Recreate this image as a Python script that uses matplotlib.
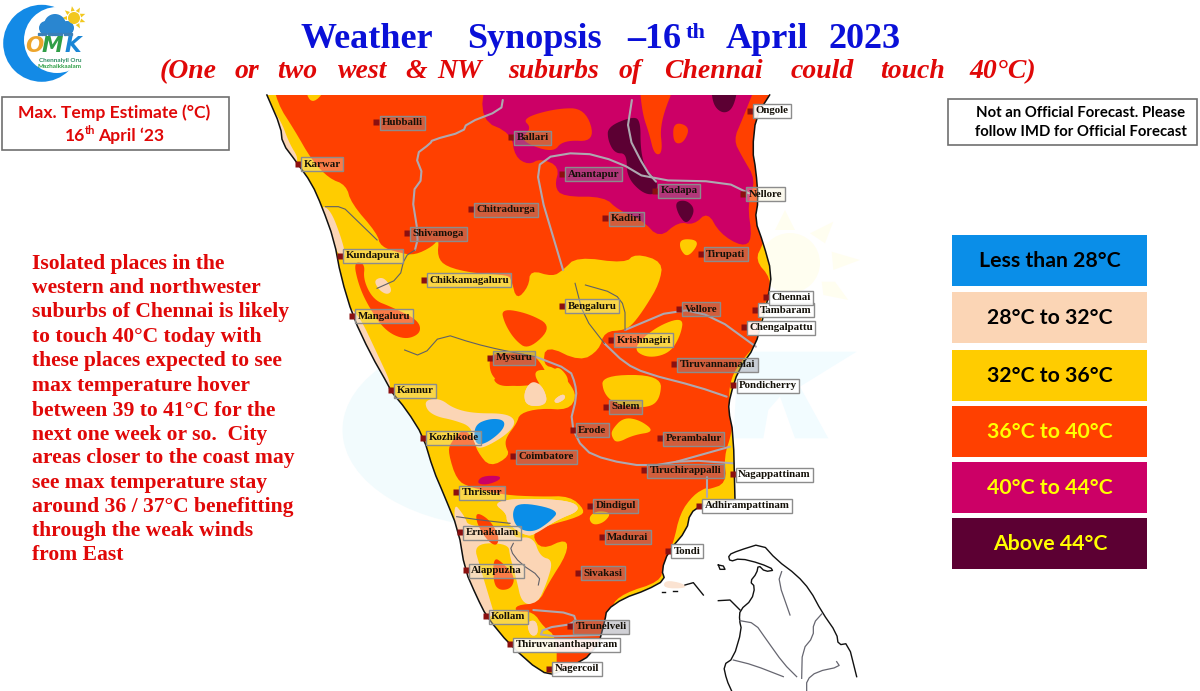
import matplotlib
matplotlib.use("Agg")
import matplotlib.pyplot as plt
from matplotlib.patches import Polygon, Rectangle, Circle, Ellipse
import numpy as np

def z1(p): return [(260 + x / 2.904, 90 + y / 3) for x, y in p]
def z2(p): return [(340 + x / 3, 380 + y / 3) for x, y in p]
def z6(p): return [(700 + x / 3, 200 + y / 3) for x, y in p]
def z7(p): return [(640 + x / 3, 530 + y / 3) for x, y in p]

def chaikin(p, n=3, closed=True):
    a = np.array(p, float)
    for _ in range(n):
        if closed:
            b = np.roll(a, -1, axis=0)
            a = np.column_stack([0.75 * a + 0.25 * b, 0.25 * a + 0.75 * b]).reshape(-1, 2)
        else:
            q = 0.75 * a[:-1] + 0.25 * a[1:]
            r = 0.25 * a[:-1] + 0.75 * a[1:]
            m = np.column_stack([q, r]).reshape(-1, 2)
            a = np.vstack([a[0], m, a[-1]])
    return a

# ---- legend
LEGEND_LABELS = ["Less than 28°C", "28°C to 32°C", "32°C to 36°C",
                 "36°C to 40°C", "40°C to 44°C", "Above 44°C"]
LEGEND_COLORS = ["#0a8ee8", "#fbd5b5", "#ffcc00", "#ff4000", "#cc0066", "#5c0033"]
LEGEND_TEXT = ["black", "black", "black", "#ffff00", "#ffff00", "#ffff00"]
LEGEND_TOP = [235, 292, 350, 406, 462, 518]

BODY_LINES = ["Isolated places in the", "western and northwester",
              "suburbs of Chennai is likely", "to touch 40°C today with",
              "these places expected to see", "max temperature hover",
              "between 39 to 41°C for the", "next one week or so.  City",
              "areas closer to the coast may", "see max temperature stay",
              "around 36 / 37°C benefitting", "through the weak winds", "from East"]
BODY_Y = [264, 288, 312, 337, 361, 386, 411, 435, 458, 483, 507, 531, 555]

TITLE_WORDS = [("Weather", 294, 440), ("Synopsis", 457, 612), ("–16", 627, 682),
               ("April", 722, 812), ("2023", 828, 902)]
SUB_WORDS = [("(One", 157, 220), ("or", 233, 260), ("two", 274, 320), ("west", 334, 392),
             ("&", 407, 425), ("NW", 438, 482), ("suburbs", 495, 613), ("of", 618, 643),
             ("Chennai", 656, 770), ("could", 785, 860), ("touch", 875, 950), ("40°C)", 965, 1040)]

# ---- city labels
CITIES_NORTH = [("Hubballi", 338, 97), ("Karwar", 110, 222), ("Ballari", 730, 142),
                ("Anantapur", 878, 252), ("Kadapa", 1147, 302), ("Ongole", 1422, 62),
                ("Nellore", 1403, 312), ("Chitradurga", 612, 358), ("Kadiri", 1003, 385),
                ("Shivamoga", 428, 430), ("Kundapura", 233, 497), ("Tirupati", 1280, 492),
                ("Chikkamagaluru", 475, 570), ("Bengaluru", 878, 648), ("Vellore", 1217, 657),
                ("Mangaluru", 268, 678), ("Krishnagiri", 1020, 750), ("Chengalpattu", 1405, 712),
                ("Tambaram", 1437, 660), ("Chennai", 1470, 622), ("Mysuru", 668, 803),
                ("Tiruvannamalai", 1203, 823), ("Pondicherry", 1375, 886)]
CITIES_SOUTH = [("Kannur", 153, 31), ("Salem", 797, 80), ("Erode", 698, 150),
                ("Kozhikode", 250, 173), ("Perambalur", 960, 175), ("Coimbatore", 520, 229),
                ("Tiruchirappalli", 913, 271), ("Nagappattinam", 1178, 283), ("Thrissur", 349, 337),
                ("Dindigul", 750, 377), ("Adhirampattinam", 1078, 377), ("Ernakulam", 360, 457),
                ("Madurai", 785, 471), ("Tondi", 985, 513), ("Alappuzha", 377, 571),
                ("Sivakasi", 715, 579), ("Kollam", 437, 709), ("Tirunelveli", 690, 739),
                ("Thiruvananthapuram", 510, 793), ("Nagercoil", 628, 866)]
WHITE_LABELS = {"Pondicherry", "Chennai", "Tambaram", "Chengalpattu", "Nagappattinam",
                "Adhirampattinam", "Tondi", "Ongole", "Nagercoil", "Thiruvananthapuram"}
PALE_LABELS = {"Karwar", "Kundapura", "Mangaluru", "Kannur", "Kozhikode", "Thrissur", "Ernakulam",
               "Alappuzha", "Kollam", "Bengaluru", "Chikkamagaluru", "Krishnagiri", "Nellore"}

# ---- map outlines
COAST = (z1([(20, 15), (60, 110), (65, 160), (105, 215), (150, 280), (180, 350), (215, 450),
             (235, 560), (270, 680), (320, 790), (375, 890)])
         + z2([(150, 30), (200, 90), (250, 170), (280, 270), (310, 340), (355, 450), (375, 570),
               (410, 650), (440, 710), (510, 795), (600, 875), (650, 885), (770, 815), (795, 720),
               (800, 690), (850, 655), (920, 630), (975, 600), (965, 570), (985, 515), (1040, 450),
               (1050, 400), (1085, 375), (1185, 360)])
         + z6([(105, 900), (100, 700), (85, 630), (90, 590), (115, 510), (165, 440), (190, 350),
               (205, 290), (215, 220), (190, 130), (165, 60), (175, 0)])
         + z1([(1440, 240), (1430, 180), (1440, 80), (1480, 15)]))

RED_MAIN = (z1([(30, -60), (50, 40), (100, 120), (150, 210), (200, 265), (250, 285), (265, 340), (340, 430),
                (350, 470), (410, 490), (450, 495), (500, 470), (520, 445), (515, 500), (540, 530),
                (620, 550), (720, 555), (730, 570), (745, 630), (780, 590), (785, 540), (850, 560),
                (880, 540), (920, 500), (1060, 520), (1090, 490), (1170, 515), (1160, 580),
                (1120, 650), (1085, 700), (1060, 720), (1000, 725), (985, 780), (930, 815),
                (830, 765), (822, 825), (860, 835), (900, 880)])
            + z2([(710, 50), (685, 90), (600, 85), (540, 100), (530, 130), (500, 170), (495, 195),
                  (510, 228), (450, 262), (412, 215), (400, 175), (370, 145), (330, 190), (325, 220),
                  (350, 300), (390, 322), (490, 345), (600, 350), (690, 348), (735, 390), (720, 410),
                  (610, 440), (575, 465), (605, 510), (680, 475), (682, 520), (625, 610), (595, 670),
                  (530, 675), (525, 695), (580, 695), (610, 740), (650, 770), (650, 900), (780, 830),
                  (810, 680), (850, 640), (960, 605), (970, 560), (1000, 490), (1020, 400),
                  (1060, 345), (1100, 322)])
            + z6([(20, 870), (80, 850), (72, 770), (95, 700), (100, 640), (85, 590), (95, 530), (120, 490),
                  (165, 435), (180, 400), (185, 330), (205, 290), (213, 235), (165, 180), (190, 130),
                  (210, 60), (210, 0)])
            + z1([(1500, 240), (1500, 80), (1520, -60)]))
RED_PATCHES = [
    z1([(665, 800), (690, 790), (790, 790), (820, 825), (840, 870), (800, 885), (720, 890), (670, 860)]),
    z1([(700, 655), (780, 670), (850, 710), (780, 780), (740, 750), (710, 700)]),
    z1([(272, 515), (305, 520), (300, 570), (330, 630), (380, 650), (460, 690), (468, 730),
        (420, 750), (360, 720), (310, 640), (285, 580)]),
    z2([(455, -10), (545, -10), (530, 18), (475, 18)]),
    z2([(408, 395), (450, 420), (478, 470), (470, 500), (440, 480), (410, 430)]),
    z2([(460, 530), (490, 550), (525, 590), (515, 625), (480, 632), (460, 610)]),
]
YELLOW_PATCHES = [
    z1([(125, -20), (205, -20), (150, 50)]),
    z1([(1222, 445), (1280, 452), (1242, 505), (1218, 475)]),
    z1([(1080, 775), (1150, 710), (1230, 680), (1222, 735), (1190, 790), (1125, 805)]),
    z1([(790, 840), (850, 840), (870, 830), (900, 870), (880, 900), (820, 900)]),
    z2([(785, -15), (965, -15), (960, 60), (920, 85), (830, 75), (790, 40)]),
    z2([(815, 150), (850, 112), (900, 120), (945, 155), (880, 165), (830, 190), (815, 170)]),
    z2([(745, 412), (770, 392), (815, 398), (792, 428), (758, 436)]),
]
PEACH_PATCHES = [
    z1([(10, 20), (60, 90), (85, 160), (112, 205), (100, 225), (50, 130)]),
    z1([(175, 345), (205, 360), (235, 440), (250, 500), (230, 500), (200, 430)]),
    z1([(240, 640), (285, 670), (340, 790), (385, 890), (360, 890), (290, 760)]),
    z1([(330, 570), (360, 560), (385, 600), (370, 615), (345, 600)]),
    z2([(255, 60), (300, 55), (340, 85), (400, 100), (500, 100), (530, 125), (500, 165), (420, 210),
        (400, 190), (395, 140), (340, 120), (290, 110), (260, 90)]),
    z2([(550, 40), (575, 0), (610, 20), (625, 75), (560, 80)]),
    z2([(640, 60), (670, 40), (678, 55), (650, 72)]),
    z2([(460, 370), (520, 355), (690, 360), (725, 390), (650, 420), (590, 460), (560, 470), (500, 430), (500, 400)]),
    z2([(335, 360), (375, 410), (385, 440), (520, 440), (520, 475), (580, 470), (600, 530), (640, 540),
        (620, 610), (590, 675), (545, 670), (530, 600), (510, 530), (505, 490), (400, 490), (420, 560),
        (450, 660), (465, 710), (425, 710), (365, 580)]),
    z2([(560, 725), (590, 720), (595, 765), (570, 768)]),
    z7([(75, 150), (130, 160), (140, 175), (70, 175)]),
]
BLUE_PATCHES = [
    z2([(402, 135), (450, 115), (495, 120), (490, 150), (440, 190), (405, 195)]),
    z2([(515, 400), (535, 365), (660, 390), (630, 425), (580, 458), (530, 445)]),
]
MAGENTA_PATCHES = [
    z1([(655, -40), (640, 90), (730, 130), (740, 200), (780, 225), (815, 205), (870, 230), (855, 290),
        (880, 320), (1000, 320), (1040, 360), (1110, 390), (1160, 445), (1215, 395), (1260, 405),
        (1300, 365), (1335, 430), (1400, 470), (1430, 450), (1415, 340), (1440, 270), (1400, 200),
        (1375, 150), (1400, 90), (1450, -40)]),
    z2([(410, 310), (425, 288), (480, 287), (480, 300), (440, 315)]),
]
ORANGE_IN_MAGENTA = [
    z1([(1100, -40), (1215, -40), (1160, 100), (1170, 190), (1145, 195), (1130, 130), (1110, 70)]),
    z1([(1200, 95), (1250, 110), (1230, 160), (1200, 160)]),
    z1([(760, 85), (860, 55), (945, 55), (975, 155), (880, 150), (850, 190), (750, 150), (790, 115)]),
]
DARK_PATCHES = [
    z1([(1010, 110), (1080, 80), (1105, 90), (1105, 180), (1120, 240), (1155, 270), (1150, 315),
        (1110, 310), (1065, 260), (1065, 190), (1030, 190), (1010, 150)]),
    z1([(1205, 335), (1240, 330), (1265, 360), (1240, 405), (1215, 375)]),
    z1([(1310, -20), (1390, -20), (1375, 55), (1345, 72), (1315, 45)]),
]
RIVERS_GREY = [
    z1([(705, 30), (700, 60), (600, 100), (590, 125), (500, 150), (495, 160), (450, 195), (475, 260),
        (440, 310), (460, 440), (450, 480)]),
    z1([(880, 540), (805, 280), (815, 205), (930, 185), (1040, 215), (1130, 270), (1350, 275), (1420, 310)]),
    z1([(1080, 30), (1065, 130), (1120, 240), (1150, 275)]),
    z1([(1060, 720), (1210, 655), (1320, 680), (1440, 770)]),
    z1([(1000, 760), (1060, 820), (1120, 850), (1270, 890)]) + z2([(1160, 50)]),
    z1([(800, 800), (900, 840), (915, 880)]) + z2([(710, 50), (690, 130), (730, 210), (800, 240),
                                                   (920, 260), (1040, 240), (1180, 250)]),
    z2([(580, 690), (700, 700), (710, 730), (610, 745), (600, 770), (780, 765)]),
    z2([(1100, 290), (1100, 350)]), z2([(1170, 200), (1010, 245)]),
]
RIVERS_THIN = [
    z1([(190, 350), (240, 350), (270, 380), (340, 450)]),
    z1([(450, 480), (420, 500), (405, 565), (340, 595)]),
    z1([(420, 780), (470, 800), (530, 730), (620, 760), (700, 780), (800, 800)]),
    z1([(915, 580), (940, 680), (1000, 760)]),
    z1([(945, 585), (1030, 610), (1060, 650), (1060, 720)]),
    z2([(350, 410), (420, 420), (510, 430)]),
    z2([(520, 490), (510, 510), (540, 550), (600, 590), (595, 615)]),
]
LANKA_COAST = z7([(275, 483), (260, 450), (250, 405), (280, 385), (305, 300), (298, 270), (300, 240),
                  (335, 210), (345, 170), (330, 155), (350, 130), (355, 105), (375, 125), (405, 120),
                  (360, 100), (300, 85), (270, 95), (265, 75), (295, 62), (365, 40), (410, 90),
                  (470, 135), (510, 180), (545, 245), (590, 310), (595, 345), (625, 340), (650, 440)])
LANKA_LINES = [
    z7([(300, 240), (270, 210), (235, 212)]), z7([(135, 165), (160, 158), (190, 195)]),
    z7([(235, 105), (250, 108), (255, 118), (240, 118), (235, 105)]),
    z7([(65, 187), (75, 187)]), z7([(100, 183), (110, 183)]),
]
LANKA_RIVERS = [
    z7([(300, 272), (345, 280), (380, 330), (430, 400), (470, 440)]),
    z7([(425, 125), (415, 155), (450, 255)]),
    z7([(545, 252), (520, 280), (520, 320), (487, 360), (485, 445)]),
    z7([(280, 390), (340, 405), (430, 440)]),
    z7([(590, 395), (600, 410), (530, 425), (500, 450), (500, 483)]),
]
WM_K = z6([(190, 455), (470, 455), (300, 560), (385, 715), (285, 715), (240, 590), (205, 630),
           (190, 715), (100, 715), (115, 455)])
WM_RAYS = [z6([(225, 90), (255, 30), (285, 90)]), z6([(330, 100), (400, 65), (375, 130)]),
           z6([(395, 155), (480, 180), (400, 210)]), z6([(365, 245), (405, 245), (445, 300), (370, 285)])]

# ---- figure
SERIF = "Liberation Serif"
SANS = "Lato"
fig = plt.figure(figsize=(12, 6.91), dpi=100, facecolor="white")
ax = fig.add_axes([0, 0, 1, 1])
ax.set_xlim(0, 1200); ax.set_ylim(691, 0); ax.axis("off")

# faint watermark
ax.add_patch(Ellipse((505, 430), 325, 195, fc="#f2fbfd", ec="none", zorder=1))
ax.add_patch(Polygon(WM_K, fc="#f2fcff", ec="none", zorder=1))
ax.add_patch(Circle((790, 263), 30, fc="#fffef0", ec="none", zorder=1))
for r in WM_RAYS:
    ax.add_patch(Polygon(r, fc="#fffef0", ec="none", zorder=1))

# land
coast = chaikin(COAST, 1, closed=False)
land = Polygon(coast, closed=True, fc="#ffcc00", ec="none", zorder=2)
ax.add_patch(land)

def fill(poly, color, z, smooth=3):
    p = Polygon(chaikin(poly, smooth), closed=True, fc=color, ec="none", zorder=z)
    ax.add_patch(p)
    p.set_clip_path(land)

for p in PEACH_PATCHES[:-1]:
    fill(p, "#fbd5b5", 3)
fill(RED_MAIN, "#ff4000", 4, 2)
for p in RED_PATCHES:
    fill(p, "#ff4000", 5)
for p in YELLOW_PATCHES:
    fill(p, "#ffcc00", 6)
for i in (5, 6, 7, 9):
    fill(PEACH_PATCHES[i], "#fbd5b5", 6.5)
for p in BLUE_PATCHES:
    fill(p, "#0a8ee8", 7)
for p in MAGENTA_PATCHES:
    fill(p, "#cc0066", 7, 2)
for p in ORANGE_IN_MAGENTA:
    fill(p, "#ff4000", 8)
for p in DARK_PATCHES:
    fill(p, "#5c0033", 9)
# shallow tint east of the Tondi headland
ax.add_patch(Polygon(chaikin(PEACH_PATCHES[-1], 2), fc="#fbe3d2", ec="none", zorder=3))

for r in RIVERS_GREY:
    a = chaikin(r, 1, closed=False)
    ax.plot(a[:, 0], a[:, 1], color="#aea8b0", lw=1.5, zorder=10, solid_capstyle="round")
for r in RIVERS_THIN:
    a = chaikin(r, 1, closed=False)
    ax.plot(a[:, 0], a[:, 1], color="#606068", lw=0.8, zorder=10)
ax.plot(coast[:, 0], coast[:, 1], color="#111111", lw=1.1, zorder=11)

# Sri Lanka
a = chaikin(LANKA_COAST, 1, closed=False)
ax.plot(a[:, 0], a[:, 1], color="#111111", lw=1.0, zorder=5)
for r in LANKA_LINES:
    ax.plot(*zip(*r), color="#111111", lw=1.0, zorder=5)
for r in LANKA_RIVERS:
    a = chaikin(r, 1, closed=False)
    ax.plot(a[:, 0], a[:, 1], color="#666670", lw=0.9, zorder=5)

# city labels
for (name, x, y) in [(n, *z1([(a, b)])[0]) for n, a, b in CITIES_NORTH] + \
                    [(n, *z2([(a, b)])[0]) for n, a, b in CITIES_SOUTH]:
    ax.plot([x], [y], marker="s", ms=3.8, color="#8b1010", mec="none", zorder=13)
    if name in WHITE_LABELS:
        fc = (1, 1, 1, 0.92)
    elif name in PALE_LABELS:
        fc = (0.95, 0.92, 0.8, 0.35)
    else:
        fc = (0.55, 0.55, 0.6, 0.4)
    ax.text(x + 5.5, y + 0.3, name, family=SERIF, weight="bold", fontsize=7.8, color="#141008",
            ha="left", va="center", zorder=14,
            bbox=dict(boxstyle="square,pad=0.22", fc=fc, ec="#8c8c8c", lw=1))

# title
for w, a, b in TITLE_WORDS:
    ax.text((a + b) / 2, 48, w, family=SERIF, weight="bold", fontsize=26, color="#0a10d8",
            ha="center", va="baseline", zorder=20)
ax.text(696, 38, "th", family=SERIF, weight="bold", fontsize=16, color="#0a10d8",
        ha="center", va="baseline", zorder=20)
for w, a, b in SUB_WORDS:
    ax.text((a + b) / 2, 78, w, family=SERIF, weight="bold", style="italic", fontsize=20,
            color="#e00808", ha="center", va="baseline", zorder=20)

# info boxes
ax.add_patch(Rectangle((1.5, 97), 227, 53, fc="white", ec="#6f6f6f", lw=1.2, zorder=15))
ax.text(114, 113, "Max. Temp Estimate (°C)", family=SANS, weight="bold", fontsize=12.6,
        color="#e00808", ha="center", va="center", zorder=16)
ax.text(75, 136, "16", family=SANS, weight="bold", fontsize=12.6, color="#e00808",
        ha="center", va="center", zorder=16)
ax.text(90, 130, "th", family=SANS, weight="bold", fontsize=8, color="#e00808",
        ha="center", va="center", zorder=16)
ax.text(131, 136, "April ‘23", family=SANS, weight="bold", fontsize=12.6, color="#e00808",
        ha="center", va="center", zorder=16)
ax.add_patch(Rectangle((947.5, 99), 249.5, 46, fc="white", ec="#6f6f6f", lw=1.2, zorder=15))
ax.text(1081, 113, "Not an Official Forecast. Please", family=SANS, weight="bold", fontsize=10.7,
        color="black", ha="center", va="center", zorder=16)
ax.text(1081, 132, "follow IMD for Official Forecast", family=SANS, weight="bold", fontsize=10.7,
        color="black", ha="center", va="center", zorder=16)

# legend
for lab, col, tc, top in zip(LEGEND_LABELS, LEGEND_COLORS, LEGEND_TEXT, LEGEND_TOP):
    ax.add_patch(Rectangle((952, top), 195, 51, fc=col, ec="none", zorder=15))
    ax.text(1050, top + 26, lab, family=SANS, weight="bold", fontsize=15.3, color=tc,
            ha="center", va="center", zorder=16)

# body text
for t, y in zip(BODY_LINES, BODY_Y):
    ax.text(32, y, t, family=SERIF, weight="bold", fontsize=15.6, color="#e00808",
            ha="left", va="center", zorder=20)

# logo
ax.add_patch(Circle((41.7, 43.3), 38.5, fc="#138ae6", ec="none", zorder=20))
ax.add_patch(Circle((57, 40), 33, fc="white", ec="none", zorder=21))
for cx, cy, r in [(55, 25, 11), (46, 28, 7), (67, 28, 7)]:
    ax.add_patch(Circle((cx, cy), r, fc="#2a86d0", ec="none", zorder=22))
ax.add_patch(Rectangle((40, 25), 33, 7, fc="#2a86d0", ec="none", zorder=22))
ax.add_patch(Circle((74, 18), 6, fc="#f2c81e", ec="none", zorder=22))
for ang in np.arange(-60, 190, 40):
    c, s = np.cos(np.radians(ang)), np.sin(np.radians(ang))
    ax.add_patch(Polygon([(74 + 7 * c - 2 * s, 18 - 7 * s - 2 * c), (74 + 7 * c + 2 * s, 18 - 7 * s + 2 * c),
                          (74 + 12 * c, 18 - 12 * s)], fc="#f2c81e", ec="none", zorder=21.5))
ax.plot(np.arange(39, 74, 3.2), [34] * 11, ls="none", marker="s", ms=1.4, color="#3a7fb8", zorder=22)
for ch, x, col in [("O", 34, "#eda52c"), ("M", 52, "#2f9e46"), ("K", 73, "#1a86d6")]:
    ax.text(x, 45.5, ch, family="DejaVu Sans", weight="bold", style="italic", fontsize=15.5, color=col,
            ha="center", va="center", zorder=23)
ax.text(60, 60.5, "Chennaiyil Oru", family="Lato", weight="bold", fontsize=4.6, color="#2a8a60",
        ha="center", va="center", zorder=23)
ax.text(60, 66, "Mazhaikkaalam", family="Lato", weight="bold", fontsize=4.6, color="#2f9e46",
        ha="center", va="center", zorder=23)

fig.savefig("out.png", dpi=100)
